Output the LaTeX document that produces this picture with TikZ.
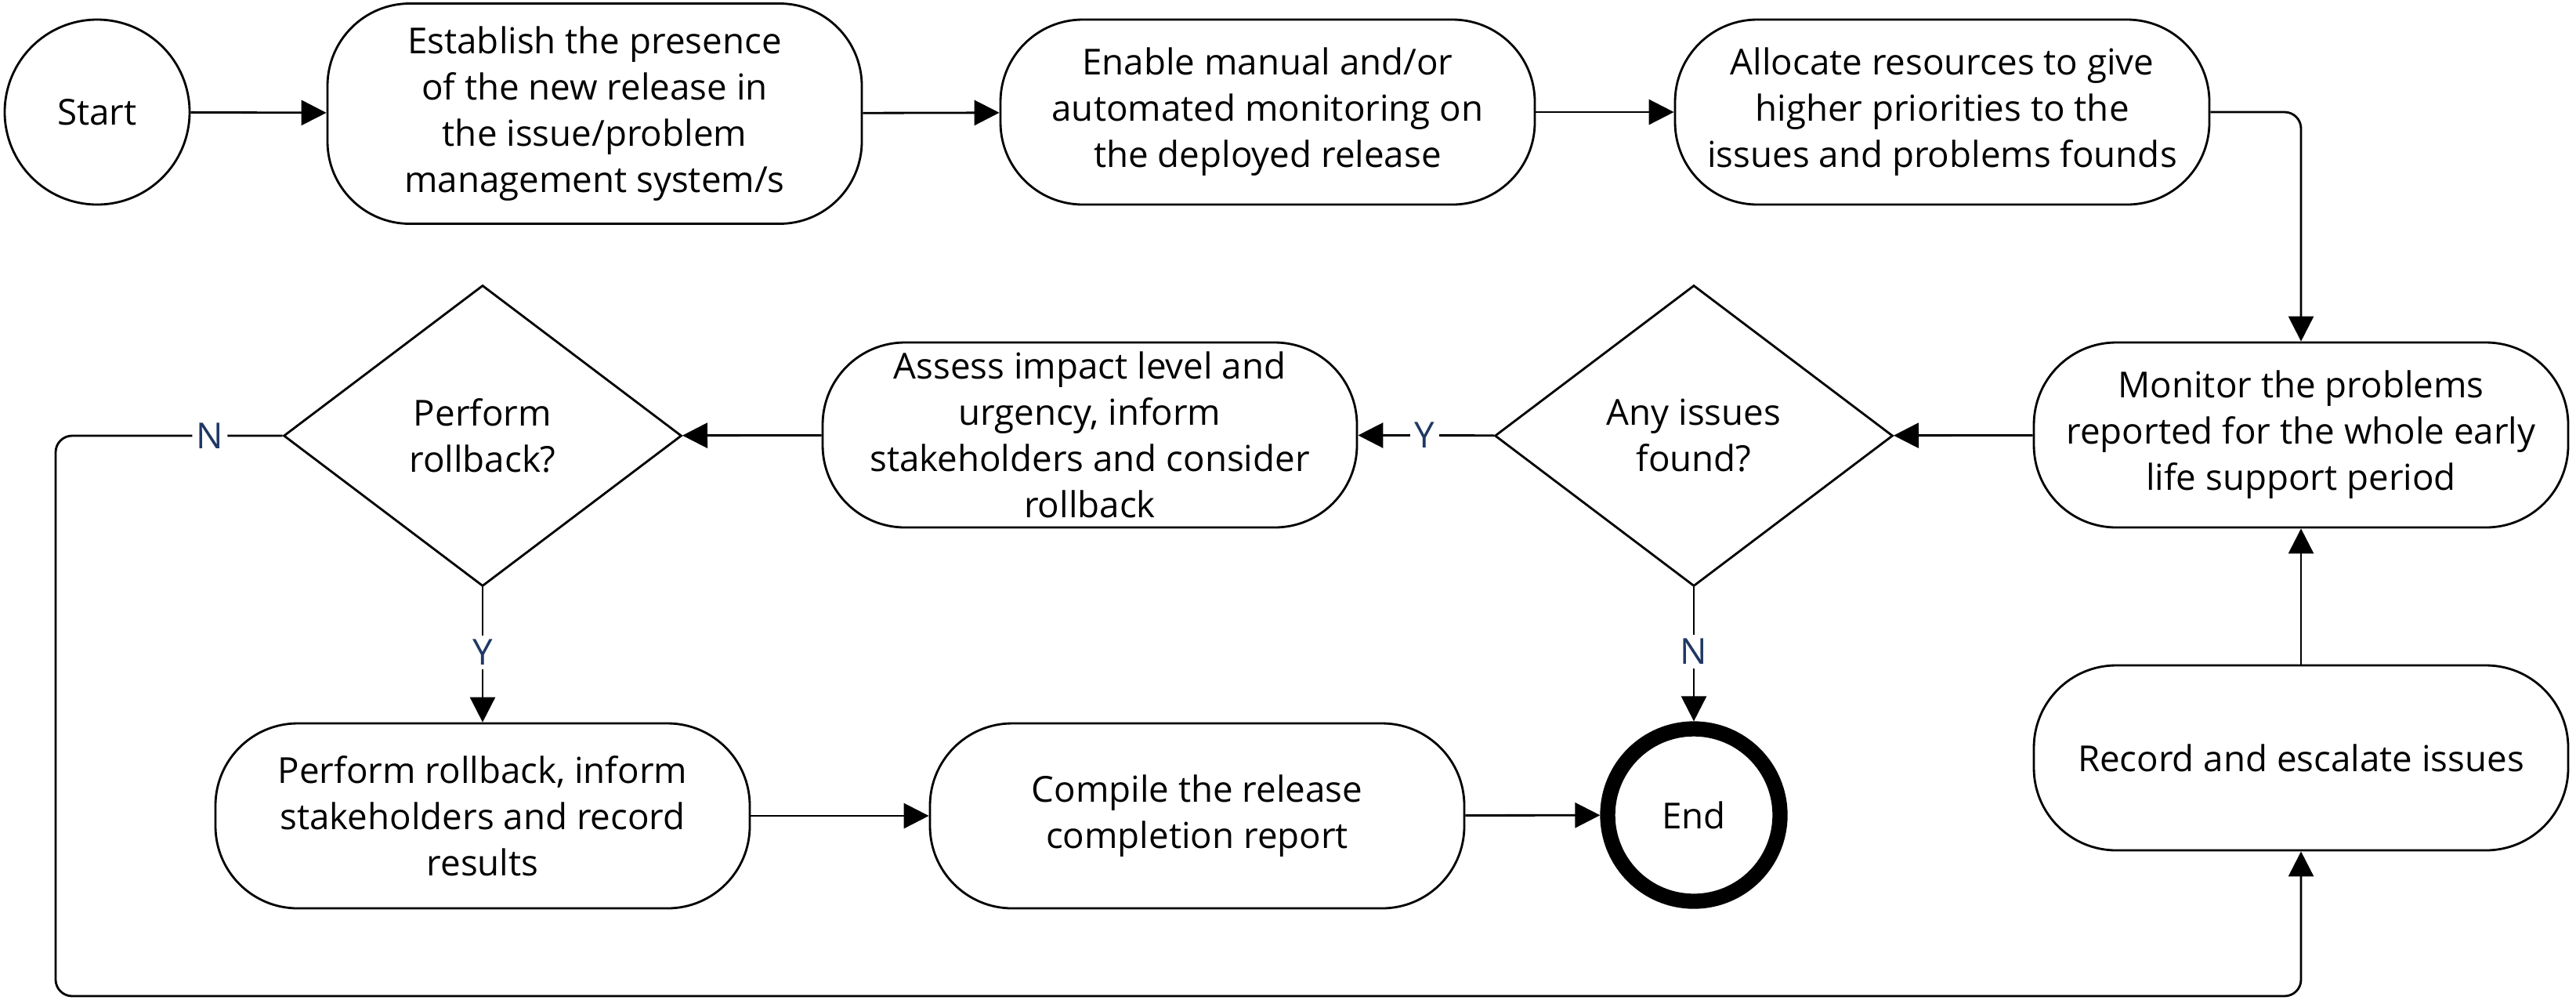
\documentclass[tikz,border=0pt]{standalone}
\usepackage{fontspec}
\setmainfont{Open Sans}
\usepackage{tikz}
\usetikzlibrary{shapes.geometric, arrows.meta, positioning, calc}
\definecolor{labelnavy}{RGB}{31, 56, 100}
\tikzset{
  stepbox/.style={draw, line width=0.8pt, rounded corners=1.05cm, minimum width=6.82cm, minimum height=2.36cm, align=center, font=\fontsize{13}{16.8}\selectfont, inner sep=2pt},
  decision/.style={draw, diamond, line width=0.8pt, minimum width=5.08cm, minimum height=3.84cm, inner sep=0pt, align=center, font=\fontsize{13}{16.8}\selectfont},
  flow/.style={line width=0.8pt, -{Triangle[length=0.32cm, width=0.32cm]}},
  yn/.style={fill=white, text=labelnavy, inner sep=1.5pt, font=\fontsize{13}{16.8}\selectfont}
}

\begin{document}
\begin{tikzpicture}
  \useasboundingbox (0,0) rectangle (32.88,-12.75);

  % Top row
  \node[draw, circle, line width=0.8pt, minimum size=2.36cm, font=\fontsize{13}{16.8}\selectfont] (start) at (1.24,-1.43) {Start};
  \node[stepbox, minimum height=2.81cm] (establish) at (7.59,-1.45) {Establish the presence\\of the new release in\\the issue/problem\\management system/s};
  \node[stepbox] (enable) at (16.18,-1.43) {Enable manual and/or\\automated monitoring on\\the deployed release};
  \node[stepbox] (allocate) at (24.79,-1.43) {Allocate resources to give\\higher priorities to the\\issues and problems founds};
  \draw[flow] (start) -- (establish);
  \draw[flow] (establish) -- (enable);
  \draw[flow] (enable) -- (allocate);

  % Middle row
  \node[stepbox] (monitor) at (29.37,-5.55) {Monitor the problems\\reported for the whole early\\life support period};
  \node[decision] (anyissues) at (21.62,-5.56) {Any issues\\found?};
  \node[stepbox] (assess) at (13.91,-5.55) {Assess impact level and\\urgency, inform\\stakeholders and consider\\rollback};
  \node[decision] (rollq) at (6.16,-5.56) {Perform\\rollback?};
  \draw[flow, rounded corners=6pt] (allocate.east) -| (monitor.north);
  \draw[flow] (monitor) -- (anyissues);
  \draw[flow] (anyissues) -- node[yn, pos=0.51] {Y} (assess);
  \draw[flow] (assess) -- (rollq);

  % Bottom row
  \node[stepbox] (rollbox) at (6.16,-10.41) {Perform rollback, inform\\stakeholders and record\\results};
  \node[stepbox] (compile) at (15.28,-10.41) {Compile the release\\completion report};
  \node[draw, circle, line width=5.5pt, minimum size=2.2cm, font=\fontsize{13}{16.8}\selectfont] (end) at (21.62,-10.40) {End};
  \node[stepbox] (record) at (29.37,-9.67) {Record and escalate issues};
  \draw[flow] (rollq) -- node[yn, pos=0.48] {Y} (rollbox);
  \draw[flow] (anyissues) -- node[yn, pos=0.48] {N} (end);
  \draw[flow] (rollbox) -- (compile);
  \draw[flow] (compile) -- (end);
  \draw[flow] (record) -- (monitor);

  % Loop back
  \coordinate (loopcorner) at (0.71,-12.71);
  \draw[flow, rounded corners=6pt] (rollq.west) -| node[yn, pos=0.16] {N} (loopcorner) -| (record.south);
\end{tikzpicture}
\end{document}
